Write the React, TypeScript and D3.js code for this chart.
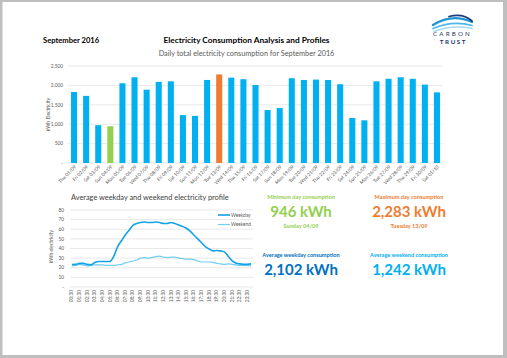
import React from "react";
import * as d3 from "d3";

const days = ["Thu 01/09","Fri 02/09","Sat 03/09","Sun 04/09","Mon 05/09","Tue 06/09","Wed 07/09","Thu 08/09","Fri 09/09","Sat 10/09","Sun 11/09","Mon 12/09","Tue 13/09","Wed 14/09","Thu 15/09","Fri 16/09","Sat 17/09","Sun 18/09","Mon 19/09","Tue 20/09","Wed 21/09","Thu 22/09","Fri 23/09","Sat 24/09","Sun 25/09","Mon 26/09","Tue 27/09","Wed 28/09","Thu 29/09","Fri 30/09","Sat 01/10"];
const dailyKWh = [1830,1730,975,946,2055,2210,1890,2090,2105,1235,1215,2140,2283,2200,2160,2010,1365,1415,2185,2140,2150,2140,2030,1160,1100,2105,2170,2210,2170,2020,1820];
const barTicks = [0, 500, 1000, 1500, 2000, 2500];

const times = ["00:30","01:00","01:30","02:00","02:30","03:00","03:30","04:00","04:30","05:00","05:30","06:00","06:30","07:00","07:30","08:00","08:30","09:00","09:30","10:00","10:30","11:00","11:30","12:00","12:30","13:00","13:30","14:00","14:30","15:00","15:30","16:00","16:30","17:00","17:30","18:00","18:30","19:00","19:30","20:00","20:30","21:00","21:30","22:00","22:30","23:00","23:30","00:00"];
const weekday = [23.3,23.5,24.5,24.5,23.5,23,25.5,26.5,26.5,26.5,26.5,32,42,48,54,59,64,66,67,67.5,67,67,67.5,67,66,66,67,66,64.5,63,61,58,54,50,46,42,39.5,37.5,38,37.5,36.5,32,27.5,25,24,23.5,23.5,24];
const weekend = [22,22.5,23.5,23,22,22.5,23,23,23,22.5,22.5,22.5,23,23.5,25,26,27,28,30,30.5,30,30.5,31.5,32,31,30.5,31,31,30,29.5,29,29,28.5,27,26,26,26,25.5,24.5,24,23.5,24,23.5,23,22.5,22.5,22.5,22];
const lineTicks = [0, 10, 20, 30, 40, 50, 60, 70, 80];

const kpiLabels = ["Minimum day consumption", "Maximum day consumption", "Average weekday consumption", "Average weekend consumption"];
const kpiValues = ["946 kWh", "2,283 kWh", "2,102 kWh", "1,242 kWh"];
const kpiNotes = ["Sunday 04/09", "Tuesday 13/09", "", ""];

const FONT = "Lato, 'Open Sans', sans-serif";
const BLUE = "#00B0F0";
const GREEN = "#92D050";
const ORANGE = "#ED7D31";
const GRID = "#D9D9D9";
const AXT = "#595959";

export default function App() {
  // Bar chart
  const xB = d3.scaleBand<string>().domain(days).range([68, 443]).paddingInner(0.5).paddingOuter(0.25);
  const yB = d3.scaleLinear().domain([0, 2500]).range([163, 66]);
  const minI = dailyKWh.indexOf(d3.min(dailyKWh)!);
  const maxI = dailyKWh.indexOf(d3.max(dailyKWh)!);
  const fmt = d3.format(",");

  // Line chart
  const xL = d3.scaleBand<string>().domain(times).range([70, 253]);
  const yL = d3.scaleLinear().domain([0, 80]).range([287, 210]);
  const line = d3.line<number>()
    .x((_, i) => xL(times[i])! + xL.bandwidth() / 2)
    .y((d) => yL(d))
    .curve(d3.curveMonotoneX);

  const kpiColors = [GREEN, ORANGE, "#0070C0", BLUE];
  const kpiX = [301, 409, 301, 409];
  const kpiY = [199, 199, 257, 257];

  return (
    <svg width={507} height={358} style={{ position: "fixed", left: 0, top: 0 }} fontFamily={FONT}>
      <rect x={0} y={0} width={507} height={358} fill="#BFBFBF" />
      <rect x={2.5} y={2} width={500.5} height={353} fill="#FFFFFF" />

      {/* Header */}
      <text x={43} y={43} fontSize={7.6} fontWeight={700} fill="#000">September 2016</text>
      <text x={246.5} y={43} fontSize={8.3} fontWeight={700} fill="#000" textAnchor="middle">Electricity Consumption Analysis and Profiles</text>
      <text x={246.5} y={56} fontSize={7.3} fill="#595959" textAnchor="middle">Daily total electricity consumption for September 2016</text>

      {/* Logo */}
      <g fill="none" strokeLinecap="round">
        <path d="M 433 25 Q 452 13 472 22" stroke="#1C95D4" strokeWidth={2.4} />
        <path d="M 433 28.5 Q 453 20 472 25.5" stroke="#4DB8E8" strokeWidth={1.8} />
        <path d="M 434 31.5 Q 453 24.5 472 28.5" stroke="#A5DBF4" strokeWidth={1.4} />
        <path d="M 449 16.5 Q 463 13 472 21" stroke="#1F3A78" strokeWidth={1.8} />
      </g>
      <text x={452.5} y={35.5} fontSize={6.2} fill="#1F3864" textAnchor="middle" letterSpacing={2.2}>CARBON</text>
      <text x={453.5} y={43.5} fontSize={6.2} fontWeight={700} fill="#1F3864" textAnchor="middle" letterSpacing={1.6}>TRUST</text>

      {/* Bar chart grid + axis */}
      {barTicks.map((t) => (
        <g key={"bt" + t}>
          <line x1={68} x2={443} y1={yB(t)} y2={yB(t)} stroke={GRID} strokeWidth={0.6} />
          <text x={63} y={yB(t) + 1.7} fontSize={4.8} fill={AXT} textAnchor="end">{t === 0 ? "-" : fmt(t)}</text>
        </g>
      ))}
      <text transform={`translate(50,${(yB(0) + yB(2500)) / 2}) rotate(-90)`} fontSize={5} fill={AXT} textAnchor="middle">kWh Electricity</text>
      {dailyKWh.map((v, i) => (
        <rect key={"b" + i} x={xB(days[i])!} y={yB(v)} width={xB.bandwidth()} height={yB(0) - yB(v)}
          fill={i === minI ? GREEN : i === maxI ? ORANGE : BLUE} />
      ))}
      {days.map((d) => {
        const cx = xB(d)! + xB.bandwidth() / 2;
        return (
          <text key={"bl" + d} transform={`translate(${cx + 1.5},${166.5}) rotate(-45)`} fontSize={4.8} fill={AXT} textAnchor="end" dominantBaseline="middle">{d}</text>
        );
      })}

      {/* Line chart */}
      <text x={71} y={200} fontSize={7.4} fill="#404040">Average weekday and weekend electricity profile</text>
      {lineTicks.map((t) => (
        <g key={"lt" + t}>
          <line x1={70} x2={253} y1={yL(t)} y2={yL(t)} stroke={GRID} strokeWidth={0.6} />
          <text x={64} y={yL(t) + 1.7} fontSize={4.8} fill={AXT} textAnchor="end">{t === 0 ? "-" : t}</text>
        </g>
      ))}
      <text transform={`translate(53,${(yL(0) + yL(80)) / 2 - 2}) rotate(-90)`} fontSize={5} fill={AXT} textAnchor="middle">kWh electricity</text>
      {times.map((t, i) => i % 2 === 0 ? (
        <text key={"tl" + i} transform={`translate(${xL(t)! + xL.bandwidth() / 2 + 0.3},${290}) rotate(-90)`} fontSize={4.8} fill={AXT} textAnchor="end" dominantBaseline="middle">{t}</text>
      ) : null)}
      <path d={line(weekend)!} fill="none" stroke="#70CDF4" strokeWidth={1.2} />
      <path d={line(weekday)!} fill="none" stroke="#12A2E6" strokeWidth={1.6} />
      {/* Legend */}
      <line x1={218} x2={230} y1={215} y2={215} stroke="#12A2E6" strokeWidth={1.6} />
      <text x={231} y={216.7} fontSize={4.8} fill={AXT}>Weekday</text>
      <line x1={218} x2={230} y1={224.5} y2={224.5} stroke="#70CDF4" strokeWidth={1.2} />
      <text x={231} y={226.2} fontSize={4.8} fill={AXT}>Weekend</text>

      {/* KPIs */}
      {kpiLabels.map((lab, i) => (
        <g key={"k" + i} fill={kpiColors[i]} textAnchor="middle">
          <text x={kpiX[i]} y={kpiY[i]} fontSize={5.6} fontWeight={700}>{lab}</text>
          <text x={kpiX[i]} y={kpiY[i] + 17.5} fontSize={15} fontWeight={700}>{kpiValues[i]}</text>
          {kpiNotes[i] ? <text x={kpiX[i]} y={kpiY[i] + 28.5} fontSize={5.6} fontWeight={700}>{kpiNotes[i]}</text> : null}
        </g>
      ))}
    </svg>
  );
}
